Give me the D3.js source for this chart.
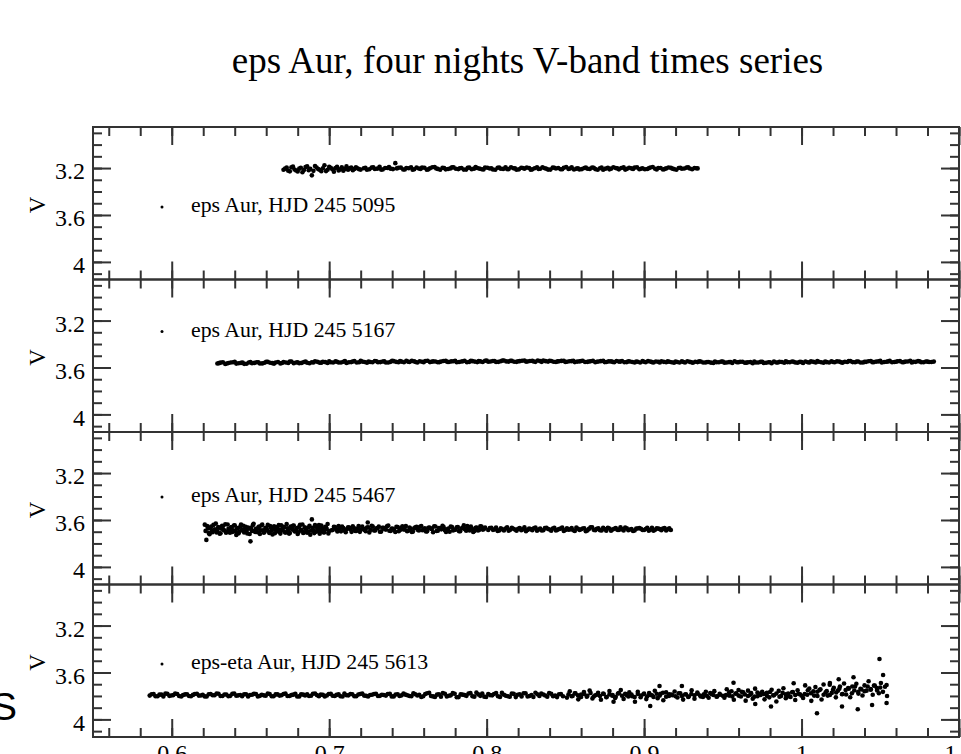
<!DOCTYPE html>
<html>
<head>
<meta charset="utf-8">
<script src="https://cdn.jsdelivr.net/npm/d3@7"></script>
<style>
  body { margin: 0; background: #fff; }
  svg { display: block; font-family: "Liberation Serif", "Times New Roman", serif; }
</style>
</head>
<body>
<svg id="chart" width="961" height="754"></svg>
<script>
const chartTitle = "eps Aur, four nights V-band times series";
const yLabel = "V";
const nightLabels = [
  "eps Aur, HJD 245 5095",
  "eps Aur, HJD 245 5167",
  "eps Aur, HJD 245 5467",
  "eps-eta Aur, HJD 245 5613"
];
const xTickLabels = [0.6, 0.7, 0.8, 0.9, 1, 1.1];
const vTickLabels = [3.2, 3.6, 4];

// [fraction of day, V mag]
const night5095 = [
  [.671,3.214],[.673,3.196],[.675,3.228],[.677,3.188],[.679,3.221],[.681,3.205],[.683,3.236],[.685,3.192],[.687,3.218],[.689,3.262],
  [.691,3.183],[.693,3.209],[.695,3.227],[.697,3.176],[.699,3.214],[.701,3.198],[.703,3.232],[.705,3.190],[.707,3.211],[.709,3.222],
  [.711,3.186],[.713,3.203],[.715,3.219],[.717,3.194],[.719,3.210],[.722,3.201],[.724,3.214],[.727,3.196],[.729,3.208],[.732,3.189],
  [.734,3.212],[.737,3.199],[.739,3.205],[.742,3.158],[.744,3.197],[.747,3.212],[.749,3.200],[.752,3.193],[.754,3.210],[.757,3.204],
  [.759,3.196],[.762,3.214],[.764,3.201],[.767,3.192],[.769,3.207],[.772,3.198],[.774,3.211],[.777,3.203],[.779,3.194],[.782,3.209],
  [.784,3.200],[.787,3.213],[.789,3.196],[.792,3.205],[.794,3.199],[.797,3.210],[.799,3.195],[.802,3.204],[.804,3.212],[.807,3.198],
  [.809,3.206],[.812,3.193],[.814,3.209],[.817,3.201],[.819,3.214],[.822,3.197],[.824,3.205],[.827,3.199],[.829,3.211],[.832,3.194],
  [.834,3.206],[.837,3.202],[.839,3.213],[.842,3.196],[.844,3.204],[.847,3.210],[.849,3.198],[.852,3.207],[.854,3.193],[.857,3.205],
  [.859,3.212],[.862,3.199],[.864,3.206],[.867,3.195],[.869,3.209],[.872,3.202],[.874,3.214],[.877,3.197],[.879,3.205],[.882,3.200],
  [.884,3.211],[.887,3.194],[.889,3.207],[.892,3.203],[.894,3.196],[.897,3.210],[.899,3.201],[.902,3.208],[.904,3.195],[.907,3.206],
  [.909,3.199],[.912,3.212],[.914,3.203],[.917,3.197],[.919,3.209],[.922,3.200],[.924,3.206],[.927,3.196],[.929,3.204],[.932,3.199],
  [.934,3.203],
  [.672,3.205],[.674,3.222],[.676,3.193],[.678,3.212],[.680,3.229],[.682,3.198],[.684,3.216],[.686,3.185],[.688,3.207],[.690,3.224],
  [.692,3.195],[.694,3.214],[.696,3.201],[.698,3.226],[.700,3.190],[.702,3.210],[.704,3.199],[.706,3.220],[.708,3.193],[.710,3.208],
  [.712,3.215],[.714,3.196],[.716,3.207],[.718,3.201],[.720,3.213],
  [.723,3.198],[.7255,3.210],[.728,3.194],[.7305,3.205],[.733,3.213],[.7355,3.200],[.738,3.192],[.7405,3.209],[.743,3.203],[.7455,3.196],
  [.748,3.212],[.7505,3.201],[.753,3.214],[.7555,3.195],[.758,3.207],[.7605,3.197],[.763,3.211],[.7655,3.193],[.768,3.204],[.7705,3.215],
  [.773,3.199],[.7755,3.208],[.778,3.194],[.7805,3.206],[.783,3.202],[.7855,3.213],[.788,3.197],[.7905,3.210],[.793,3.191],[.7955,3.205],
  [.798,3.212],[.8005,3.198],[.803,3.201],[.8055,3.214],[.808,3.195],[.8105,3.207],[.813,3.209],[.8155,3.193],[.818,3.203],[.8205,3.211],
  [.823,3.200],[.8255,3.196],[.828,3.215],[.8305,3.202],[.833,3.208],[.8355,3.194],[.838,3.206],[.8405,3.213],[.843,3.197],[.8455,3.199],
  [.848,3.210],[.8505,3.192],[.853,3.204],[.8555,3.212],[.858,3.201],[.8605,3.209],[.863,3.195],[.8655,3.207],[.868,3.198],[.8705,3.214],
  [.873,3.196],[.8755,3.205],[.878,3.211],[.8805,3.193],[.883,3.203],[.8855,3.200],[.888,3.213],[.8905,3.197],[.893,3.208],[.8955,3.194],
  [.898,3.206],[.9005,3.210],[.903,3.202],[.9055,3.191],[.908,3.212],[.9105,3.199],[.913,3.209],[.9155,3.195],[.918,3.205],[.9205,3.214],
  [.923,3.198],[.9255,3.204],[.928,3.194],[.9305,3.210],[.933,3.201]
];

const night5167 = [
  [.629,3.566],[.631,3.559],[.634,3.570],[.636,3.562],[.639,3.556],[.641,3.567],[.644,3.561],[.646,3.569],[.649,3.558],[.651,3.564],
  [.654,3.555],[.656,3.566],[.659,3.560],[.661,3.552],[.664,3.563],[.666,3.557],[.669,3.565],[.671,3.554],[.674,3.561],[.676,3.549],
  [.679,3.558],[.681,3.564],[.684,3.553],[.686,3.560],[.689,3.556],[.691,3.547],[.694,3.559],[.696,3.552],[.699,3.562],[.701,3.555],
  [.704,3.548],[.706,3.557],[.709,3.551],[.711,3.561],[.714,3.554],[.716,3.546],[.719,3.556],[.721,3.550],[.724,3.559],[.726,3.553],
  [.729,3.545],[.731,3.555],[.734,3.549],[.736,3.558],[.739,3.552],[.741,3.546],[.744,3.556],[.746,3.550],[.749,3.543],[.751,3.553],
  [.754,3.548],[.756,3.557],[.759,3.551],[.761,3.545],[.764,3.554],[.766,3.548],[.769,3.556],[.771,3.550],[.774,3.544],[.776,3.553],
  [.779,3.547],[.781,3.555],[.784,3.549],[.786,3.543],[.789,3.552],[.791,3.546],[.794,3.554],[.796,3.548],[.799,3.542],[.801,3.551],
  [.804,3.545],[.806,3.553],[.809,3.547],[.811,3.541],[.814,3.550],[.816,3.544],[.819,3.552],[.821,3.546],[.824,3.540],[.826,3.549],
  [.829,3.544],[.831,3.552],[.834,3.546],[.836,3.541],[.839,3.550],[.841,3.545],[.844,3.553],[.846,3.547],[.849,3.542],[.851,3.551],
  [.854,3.546],[.856,3.554],[.859,3.548],[.861,3.543],[.864,3.552],[.866,3.547],[.869,3.555],[.871,3.549],[.874,3.544],[.876,3.553],
  [.879,3.548],[.881,3.556],[.884,3.550],[.886,3.545],[.889,3.554],[.891,3.549],[.894,3.557],[.896,3.551],[.899,3.546],[.901,3.555],
  [.904,3.550],[.906,3.558],[.909,3.552],[.911,3.547],[.914,3.556],[.916,3.551],[.919,3.559],[.921,3.553],[.924,3.548],[.926,3.557],
  [.929,3.552],[.931,3.560],[.934,3.554],[.936,3.549],[.939,3.558],[.941,3.553],[.944,3.561],[.946,3.555],[.949,3.550],[.951,3.559],
  [.954,3.554],[.956,3.562],[.959,3.556],[.961,3.551],[.964,3.560],[.966,3.555],[.969,3.563],[.971,3.557],[.974,3.552],[.976,3.561],
  [.979,3.556],[.981,3.564],[.984,3.558],[.986,3.551],[.989,3.560],[.991,3.554],[.994,3.549],[.996,3.558],[.999,3.552],[1.001,3.561],
  [1.004,3.555],[1.006,3.548],[1.009,3.557],[1.011,3.551],[1.014,3.560],[1.016,3.554],[1.019,3.547],[1.021,3.556],[1.024,3.550],[1.026,3.559],
  [1.029,3.553],[1.031,3.546],[1.034,3.555],[1.036,3.549],[1.039,3.558],[1.041,3.552],[1.044,3.545],[1.046,3.554],[1.049,3.548],[1.051,3.557],
  [1.054,3.551],[1.056,3.544],[1.059,3.553],[1.061,3.547],[1.064,3.556],[1.066,3.550],[1.069,3.543],[1.071,3.552],[1.074,3.546],[1.076,3.555],
  [1.079,3.549],[1.081,3.553],[1.084,3.550],
  [.630,3.563],[.6325,3.555],[.635,3.566],[.6375,3.558],[.640,3.552],[.6425,3.564],[.645,3.557],[.6475,3.568],[.650,3.554],[.6525,3.561],
  [.655,3.556],[.6575,3.565],[.660,3.551],[.6625,3.560],[.665,3.567],[.6675,3.553],[.670,3.562],[.6725,3.557],[.675,3.549],[.6775,3.563],
  [.680,3.555],[.6825,3.561],[.685,3.550],[.6875,3.564],[.690,3.557],[.6925,3.552],[.695,3.560],[.6975,3.554],[.700,3.548],[.7025,3.558],
  [.705,3.551],[.7075,3.557],[.710,3.546],[.7125,3.555],[.715,3.549],[.7175,3.558],[.720,3.544],[.7225,3.553],[.725,3.550],[.7275,3.556],
  [.730,3.547],[.7325,3.554],[.735,3.548],[.7375,3.557],[.740,3.543],[.7425,3.552],[.745,3.546],[.7475,3.555],[.750,3.550],[.7525,3.544],
  [.755,3.553],[.7575,3.547],[.760,3.556],[.7625,3.542],[.765,3.551],[.7675,3.549],[.770,3.554],[.7725,3.545],[.775,3.552],[.7775,3.548],
  [.780,3.543],[.7825,3.553],[.785,3.547],[.7875,3.555],[.790,3.544],[.7925,3.550],[.795,3.546],[.7975,3.553],[.800,3.541],[.8025,3.549],
  [.805,3.545],[.8075,3.552],[.810,3.540],[.8125,3.548],[.815,3.543],[.8175,3.551],[.820,3.547],[.8225,3.542],[.825,3.550],[.8275,3.545],
  [.830,3.549],[.8325,3.541],[.835,3.552],[.8375,3.546],[.840,3.543],[.8425,3.551],[.845,3.548],[.8475,3.544],[.850,3.553],[.8525,3.547],
  [.855,3.542],[.8575,3.550],[.860,3.545],[.8625,3.553],[.865,3.549],[.8675,3.544],[.870,3.551],[.8725,3.546],[.875,3.554],[.8775,3.548],
  [.880,3.552],[.8825,3.545],[.885,3.550],[.8875,3.556],[.890,3.547],[.8925,3.553],[.895,3.549],[.8975,3.557],[.900,3.551],[.9025,3.546],
  [.905,3.554],[.9075,3.549],[.910,3.557],[.9125,3.552],[.915,3.548],[.9175,3.555],[.920,3.550],[.9225,3.558],[.925,3.553],[.9275,3.547],
  [.930,3.556],[.9325,3.551],[.935,3.548],[.9375,3.557],[.940,3.553],[.9425,3.559],[.945,3.550],[.9475,3.555],[.950,3.549],[.9525,3.558],
  [.955,3.553],[.9575,3.547],[.960,3.556],[.9625,3.551],[.965,3.559],[.9675,3.554],[.970,3.549],[.9725,3.557],[.975,3.552],[.9775,3.560],
  [.980,3.555],[.9825,3.550],[.985,3.558],[.9875,3.553],[.990,3.548],[.9925,3.556],[.995,3.551],[.9975,3.559],[1.000,3.554],[1.0025,3.549],
  [1.005,3.557],[1.0075,3.552],[1.010,3.546],[1.0125,3.555],[1.015,3.550],[1.0175,3.558],[1.020,3.553],[1.0225,3.548],[1.025,3.556],[1.0275,3.551],
  [1.030,3.545],[1.0325,3.554],[1.035,3.549],[1.0375,3.557],[1.040,3.552],[1.0425,3.547],[1.045,3.555],[1.0475,3.550],[1.050,3.544],[1.0525,3.553],
  [1.055,3.548],[1.0575,3.556],[1.060,3.551],[1.0625,3.546],[1.065,3.554],[1.0675,3.549],[1.070,3.557],[1.0725,3.552],[1.075,3.547],[1.0775,3.555],
  [1.080,3.550],[1.0825,3.553]
];

const night5467 = [
  [.621,3.640],[.622,3.770],[.623,3.673],[.624,3.722],[.625,3.656],[.626,3.705],[.627,3.681],[.628,3.631],[.629,3.696],[.630,3.666],
  [.631,3.713],[.632,3.650],[.633,3.686],[.634,3.637],[.635,3.700],[.636,3.676],[.637,3.709],[.638,3.661],[.639,3.689],[.640,3.645],
  [.641,3.727],[.642,3.669],[.643,3.698],[.644,3.639],[.645,3.683],[.646,3.707],[.647,3.658],[.648,3.715],[.649,3.674],[.650,3.782],
  [.651,3.693],[.652,3.633],[.653,3.703],[.654,3.679],[.655,3.663],[.656,3.719],[.657,3.647],[.658,3.688],[.659,3.701],[.660,3.671],
  [.661,3.642],[.662,3.710],[.663,3.665],[.664,3.724],[.665,3.654],[.666,3.684],[.667,3.695],[.668,3.644],[.669,3.716],[.670,3.677],
  [.671,3.659],[.672,3.706],[.673,3.635],[.674,3.691],[.675,3.712],[.676,3.668],[.677,3.649],[.678,3.697],[.679,3.678],[.680,3.720],
  [.681,3.657],[.682,3.687],[.683,3.638],[.684,3.704],[.685,3.675],[.686,3.708],[.687,3.664],[.688,3.726],[.689,3.595],[.690,3.690],
  [.691,3.643],[.692,3.699],[.693,3.670],[.694,3.717],[.695,3.648],[.696,3.685],[.697,3.705],[.698,3.662],[.699,3.634],[.700,3.694],
  [.6215,3.693],[.6225,3.651],[.6235,3.711],[.6245,3.670],[.6255,3.699],[.6265,3.642],[.6275,3.682],[.6285,3.706],[.6295,3.661],[.6305,3.717],
  [.6315,3.675],[.6325,3.654],[.6335,3.690],[.6345,3.708],[.6355,3.638],[.6365,3.685],[.6375,3.665],[.6385,3.703],[.6395,3.647],[.6405,3.696],
  [.6415,3.672],[.6425,3.714],[.6435,3.658],[.6445,3.688],[.6455,3.649],[.6465,3.680],[.6475,3.701],[.6485,3.664],[.6495,3.719],[.6505,3.669],
  [.6515,3.644],[.6525,3.694],[.6535,3.676],[.6545,3.705],[.6555,3.656],[.6565,3.687],[.6575,3.640],[.6585,3.709],[.6595,3.667],[.6605,3.683],
  [.6615,3.698],[.6625,3.652],[.6635,3.691],[.6645,3.673],[.6655,3.713],[.6665,3.660],[.6675,3.677],[.6685,3.702],[.6695,3.645],[.6705,3.689],
  [.6715,3.663],[.6725,3.707],[.6735,3.671],[.6745,3.716],[.6755,3.655],[.6765,3.681],[.6775,3.648],[.6785,3.695],[.6795,3.668],[.6805,3.704],
  [.6815,3.641],[.6825,3.686],[.6835,3.710],[.6845,3.662],[.6855,3.674],[.6865,3.700],[.6875,3.650],[.6885,3.692],[.6895,3.666],[.6905,3.712],
  [.6915,3.657],[.6925,3.684],[.6935,3.643],[.6945,3.697],[.6955,3.670],[.6965,3.706],[.6975,3.659],[.6985,3.679],[.6995,3.715],
  [.7015,3.688],[.703,3.658],[.7045,3.681],[.706,3.651],[.7075,3.697],[.709,3.669],[.7105,3.704],[.712,3.662],[.7135,3.678],[.715,3.654],
  [.7165,3.693],[.718,3.673],[.7195,3.701],[.721,3.657],[.7225,3.685],[.724,3.665],[.7245,3.622],[.7255,3.706],[.727,3.650],[.7285,3.690],
  [.730,3.671],[.7315,3.656],[.733,3.699],[.7345,3.667],[.736,3.682],[.7375,3.648],[.739,3.694],[.7405,3.675],[.742,3.702],[.7435,3.661],
  [.745,3.686],[.7465,3.653],[.748,3.680],[.7495,3.696],[.751,3.664],[.7525,3.703],[.754,3.670],[.7555,3.659],[.757,3.689],[.7585,3.652],
  [.760,3.684],[.7615,3.698],[.763,3.666],[.7645,3.674],[.766,3.705],[.7675,3.655],[.769,3.691],[.7705,3.668],[.772,3.649],[.7735,3.687],
  [.775,3.679],[.7765,3.700],[.778,3.660],[.7795,3.683],[.781,3.663],[.7825,3.695],[.784,3.672],[.7855,3.646],[.787,3.692],[.7885,3.677],
  [.790,3.657],[.7915,3.702],[.793,3.667],[.7945,3.690],[.796,3.654],[.7975,3.682],[.799,3.665],
  [.7022,3.686],[.7037,3.660],[.7052,3.698],[.7067,3.672],[.7082,3.655],[.7097,3.690],[.7112,3.679],[.7127,3.664],[.7142,3.701],[.7157,3.668],
  [.7172,3.693],[.7187,3.652],[.7202,3.682],[.7217,3.675],[.7232,3.695],[.7247,3.662],[.7262,3.685],[.7277,3.657],[.7292,3.689],[.7307,3.670],
  [.7322,3.700],[.7337,3.666],[.7352,3.677],[.7367,3.653],[.7382,3.692],[.7397,3.673],[.7412,3.687],[.7427,3.659],[.7442,3.696],[.7457,3.667],
  [.7472,3.681],[.7487,3.651],[.7502,3.691],[.7517,3.674],[.7532,3.699],[.7547,3.663],[.7562,3.684],[.7577,3.658],[.7592,3.688],[.7607,3.671],
  [.7622,3.697],[.7637,3.665],[.7652,3.676],[.7667,3.654],[.7682,3.694],[.7697,3.669],[.7712,3.680],[.7727,3.661],[.7742,3.702],[.7757,3.672],
  [.7772,3.656],[.7787,3.689],[.7802,3.683],[.7817,3.660],[.7832,3.695],[.7847,3.667],[.7862,3.678],[.7877,3.652],[.7892,3.690],[.7907,3.675],
  [.7922,3.693],[.7937,3.664],[.7952,3.685],[.7967,3.657],[.7982,3.679],
  [.801,3.686],[.803,3.666],[.805,3.681],[.807,3.693],[.809,3.671],[.811,3.689],[.813,3.663],[.815,3.683],[.817,3.675],[.819,3.691],
  [.821,3.668],[.823,3.679],[.825,3.695],[.827,3.672],[.829,3.687],[.831,3.664],[.833,3.682],[.835,3.690],[.837,3.669],[.839,3.677],
  [.841,3.692],[.843,3.667],[.845,3.684],[.847,3.674],[.849,3.694],[.851,3.670],[.853,3.680],[.855,3.688],[.857,3.665],[.859,3.685],
  [.861,3.673],[.863,3.696],[.865,3.676],[.867,3.662],[.869,3.687],[.871,3.671],[.873,3.690],[.875,3.678],[.877,3.667],[.879,3.692],
  [.881,3.675],[.883,3.684],[.885,3.663],[.887,3.689],[.889,3.670],[.891,3.681],[.893,3.694],[.895,3.672],[.897,3.668],[.899,3.686],
  [.901,3.677],[.903,3.691],[.905,3.666],[.907,3.683],[.909,3.674],[.911,3.688],[.913,3.669],[.915,3.680],[.917,3.685],
  [.802,3.669],[.804,3.684],[.806,3.664],[.808,3.689],[.810,3.680],[.812,3.673],[.814,3.691],[.816,3.667],[.818,3.682],[.820,3.676],
  [.822,3.687],[.824,3.663],[.826,3.685],[.828,3.678],[.830,3.670],[.832,3.692],[.834,3.674],[.836,3.688],[.838,3.666],[.840,3.681],
  [.842,3.672],[.844,3.690],[.846,3.677],[.848,3.665],[.850,3.686],[.852,3.683],[.854,3.668],[.856,3.693],[.858,3.675],[.860,3.679],
  [.862,3.671],[.864,3.689],[.866,3.662],[.868,3.684],[.870,3.676],[.872,3.687],[.874,3.667],[.876,3.691],[.878,3.673],[.880,3.682],
  [.882,3.669],[.884,3.685],[.886,3.680],[.888,3.664],[.890,3.688],[.892,3.677],[.894,3.690],[.896,3.672],[.898,3.675],[.900,3.686],
  [.902,3.666],[.904,3.683],[.906,3.692],[.908,3.670],[.910,3.678],[.912,3.674],[.914,3.689],[.916,3.671]
];

const night5613 = [
  [.586,3.797],[.5885,3.784],[.591,3.803],[.5935,3.789],[.596,3.780],[.5985,3.799],[.601,3.793],[.6035,3.783],[.606,3.805],[.6085,3.787],
  [.611,3.801],[.6135,3.791],[.616,3.781],[.6185,3.796],[.621,3.804],[.6235,3.785],[.626,3.794],[.6285,3.779],[.631,3.800],[.6335,3.788],
  [.636,3.802],[.6385,3.782],[.641,3.798],[.6435,3.792],[.646,3.786],[.6485,3.805],[.651,3.790],[.6535,3.783],[.656,3.799],[.6585,3.795],
  [.661,3.780],[.6635,3.803],[.666,3.787],[.6685,3.797],[.671,3.784],[.6735,3.801],[.676,3.793],[.6785,3.781],[.681,3.804],[.6835,3.789],
  [.686,3.785],[.6885,3.798],[.691,3.779],[.6935,3.802],[.696,3.791],[.6985,3.796],[.701,3.782],[.7035,3.800],[.706,3.786],[.7085,3.805],
  [.711,3.794],[.7135,3.783],[.716,3.803],[.7185,3.788],[.721,3.780],[.7235,3.799],[.726,3.792],[.7285,3.784],[.731,3.801],[.7335,3.790],
  [.736,3.797],[.7385,3.781],[.741,3.804],[.7435,3.786],[.746,3.795],[.7485,3.789],
  [.751,3.801],[.7535,3.778],[.756,3.796],[.7585,3.809],[.761,3.784],[.7635,3.774],[.766,3.804],[.7685,3.789],[.771,3.807],[.7735,3.781],
  [.776,3.798],[.7785,3.776],[.781,3.811],[.7835,3.787],[.786,3.793],[.7885,3.779],[.791,3.803],[.7935,3.772],[.796,3.799],[.7985,3.806],
  [.801,3.783],[.8035,3.795],[.806,3.775],[.8085,3.808],[.811,3.790],[.8135,3.802],[.816,3.780],[.8185,3.810],[.821,3.786],[.8235,3.777],
  [.826,3.805],[.8285,3.792],[.831,3.773],[.8335,3.800],[.836,3.788],[.8385,3.807],[.841,3.782],[.8435,3.797],[.846,3.785],[.8485,3.803],
  [.5872,3.785],[.5897,3.802],[.5922,3.789],[.5947,3.804],[.5972,3.782],[.5997,3.796],[.6022,3.780],[.6047,3.800],[.6072,3.793],[.6097,3.786],
  [.6122,3.803],[.6147,3.783],[.6172,3.797],[.6197,3.791],[.6222,3.805],[.6247,3.784],[.6272,3.794],[.6297,3.781],[.6322,3.801],[.6347,3.788],
  [.6372,3.799],[.6397,3.779],[.6422,3.795],[.6447,3.802],[.6472,3.786],[.6497,3.792],[.6522,3.782],[.6547,3.804],[.6572,3.790],[.6597,3.798],
  [.6622,3.783],[.6647,3.803],[.6672,3.787],[.6697,3.794],[.6722,3.780],[.6747,3.800],[.6772,3.789],[.6797,3.805],[.6822,3.785],[.6847,3.796],
  [.6872,3.801],[.6897,3.781],[.6922,3.793],[.6947,3.788],[.6972,3.804],[.6997,3.784],[.7022,3.798],[.7047,3.791],[.7072,3.802],[.7097,3.779],
  [.7122,3.795],[.7147,3.786],[.7172,3.803],[.7197,3.783],[.7222,3.797],[.7247,3.805],[.7272,3.790],[.7297,3.782],[.7322,3.799],[.7347,3.792],
  [.7372,3.784],[.7397,3.804],[.7422,3.788],[.7447,3.800],[.7472,3.780],[.7497,3.794],[.7522,3.802],[.7547,3.786],[.7572,3.791],[.7597,3.803],
  [.7622,3.777],[.7647,3.801],[.7672,3.808],[.7697,3.785],[.7722,3.775],[.7747,3.804],[.7772,3.795],[.7797,3.781],[.7822,3.810],[.7847,3.789],
  [.7872,3.799],[.7897,3.776],[.7922,3.806],[.7947,3.787],[.7972,3.779],[.7997,3.809],[.8022,3.793],[.8047,3.783],[.8072,3.803],[.8097,3.774],
  [.8122,3.798],[.8147,3.807],[.8172,3.782],[.8197,3.790],[.8222,3.805],[.8247,3.778],[.8272,3.800],[.8297,3.809],[.8322,3.786],[.8347,3.780],
  [.8372,3.796],[.8397,3.776],[.8422,3.802],[.8447,3.810],[.8472,3.784],
  [.851,3.814],[.8528,3.761],[.8546,3.800],[.8564,3.777],[.8582,3.829],[.860,3.788],[.8618,3.766],[.8636,3.806],[.8654,3.754],[.8672,3.821],
  [.869,3.795],[.8708,3.773],[.8726,3.833],[.8744,3.783],[.8762,3.809],[.878,3.758],[.8798,3.798],[.8816,3.817],[.8834,3.779],[.8852,3.750],
  [.887,3.825],[.8888,3.791],[.8906,3.770],[.8924,3.803],[.8942,3.850],[.896,3.764],[.8978,3.811],[.8996,3.785],[.9014,3.827],[.9032,3.775],
  [.905,3.794],[.9068,3.756],[.9086,3.819],[.9104,3.781],[.9122,3.837],[.914,3.768],[.9158,3.801],[.9176,3.789],[.9194,3.762],[.9212,3.813],
  [.923,3.778],[.9248,3.831],[.9266,3.786],[.9284,3.805],[.9302,3.752],[.932,3.823],[.9338,3.772],[.9356,3.796],[.9374,3.808],[.9392,3.765],
  [.941,3.816],[.9428,3.783],[.9446,3.759],[.9464,3.804],[.9482,3.790],
  [.852,3.786],[.854,3.803],[.856,3.778],[.858,3.795],[.860,3.809],[.862,3.783],[.864,3.799],[.866,3.774],[.868,3.805],[.870,3.790],
  [.872,3.801],[.874,3.780],[.876,3.811],[.878,3.787],[.880,3.793],[.882,3.807],[.884,3.776],[.886,3.798],[.888,3.782],[.890,3.804],
  [.892,3.789],[.894,3.810],[.896,3.784],[.898,3.796],[.900,3.779],[.902,3.802],[.904,3.791],[.906,3.808],[.908,3.781],[.910,3.797],
  [.912,3.773],[.914,3.806],[.916,3.785],[.918,3.794],[.920,3.803],[.922,3.777],[.924,3.800],[.926,3.788],[.928,3.809],[.930,3.783],
  [.932,3.795],[.934,3.780],[.936,3.805],[.938,3.786],[.940,3.801],[.942,3.775],[.944,3.792],[.946,3.806],[.948,3.782],[.950,3.798],
  [.951,3.816],[.9525,3.743],[.954,3.797],[.9555,3.760],[.957,3.833],[.9585,3.777],[.960,3.749],[.9615,3.805],[.963,3.770],[.9645,3.840],
  [.966,3.755],[.9675,3.790],[.969,3.824],[.9705,3.738],[.972,3.802],[.9735,3.781],[.975,3.764],[.9765,3.829],[.978,3.773],[.9795,3.812],
  [.981,3.747],[.9825,3.794],[.984,3.847],[.9855,3.757],[.987,3.800],[.9885,3.735],[.990,3.819],[.9915,3.779],[.993,3.808],[.9945,3.767],
  [.996,3.835],[.9975,3.752],[.999,3.786],
  [.952,3.793],[.954,3.770],[.956,3.804],[.958,3.781],[.960,3.797],[.962,3.765],[.964,3.788],[.966,3.801],[.968,3.776],[.970,3.806],
  [.972,3.772],[.974,3.791],[.976,3.784],[.978,3.799],[.980,3.767],[.982,3.795],[.984,3.779],[.986,3.807],[.988,3.774],[.990,3.787],
  [.992,3.802],[.994,3.769],[.996,3.792],[.998,3.782],[1.000,3.798],
  [1.001,3.817],[1.0023,3.710],[1.0036,3.790],[1.0049,3.737],[1.0062,3.842],[1.0075,3.760],[1.0088,3.724],[1.0101,3.800],[1.0114,3.750],[1.0127,3.830],
  [1.014,3.702],[1.0153,3.768],[1.0166,3.797],[1.0179,3.705],[1.0192,3.774],[1.0205,3.730],[1.0218,3.812],[1.0231,3.755],[1.0244,3.720],[1.0257,3.785],
  [1.027,3.694],[1.0283,3.788],[1.0296,3.732],[1.0309,3.811],[1.0322,3.720],[1.0335,3.753],[1.0348,3.696],[1.0361,3.780],[1.0374,3.739],[1.0387,3.796],
  [1.040,3.710],[1.0413,3.755],[1.0426,3.675],[1.0439,3.747],[1.0452,3.790],[1.0465,3.711],[1.0478,3.733],[1.0491,3.777],[1.0504,3.690],[1.0517,3.765],
  [1.053,3.721],[1.0543,3.801],
  [1.002,3.784],[1.004,3.752],[1.006,3.777],[1.008,3.797],[1.010,3.764],[1.012,3.744],[1.014,3.790],[1.016,3.759],[1.018,3.792],[1.020,3.747],
  [1.022,3.771],[1.024,3.738],[1.026,3.783],[1.028,3.750],[1.030,3.738],[1.032,3.777],[1.034,3.720],[1.036,3.764],[1.038,3.744],[1.040,3.760],
  [1.042,3.720],[1.044,3.742],[1.046,3.712],[1.048,3.754],[1.050,3.728],
  [1.0495,3.485],[1.0518,3.621],[1.054,3.707],[1.054,3.860],[1.0098,3.948],[1.0357,3.914],[1.0257,3.890],[1.0448,3.877],[.9806,3.890],[.9706,3.869],
  [.9568,3.687],[.995,3.692],[1.018,3.690],[1.0236,3.658],[1.033,3.641],[.924,3.715],[.9098,3.715],[.9039,3.886],[.8806,3.850]
];

const nights = [night5095, night5167, night5467, night5613];

// layout
const plotLeft = 93, plotRight = 959, plotTop = 127, panelHeight = 152.5;
const legendOffsets = [80, 52, 65, 79.5];
const ink = "#333";
const serif = "'Liberation Serif', 'Times New Roman', serif";

const svg = d3.select("#chart");

const x = d3.scaleLinear().domain([0.55, 1.1]).range([plotLeft, plotRight]);

svg.append("text")
  .attr("x", 527.5)
  .attr("y", 72.5)
  .attr("text-anchor", "middle")
  .attr("font-family", serif)
  .attr("font-size", 37)
  .attr("fill", "#000")
  .text(chartTitle);

function styleAxis(sel, fontSize) {
  sel.select(".domain").remove();
  sel.attr("color", ink).attr("font-family", serif).attr("font-size", fontSize);
  sel.selectAll("line").attr("stroke-width", 2);
  sel.selectAll("text").attr("fill", "#000");
}

const plainNumber = (d) => String(d);

nights.forEach((data, i) => {
  const y0 = plotTop + i * panelHeight;
  const y1 = y0 + panelHeight;
  const y = d3.scaleLinear().domain([2.85, 4.15]).range([y0, y1]);
  const g = svg.append("g");
  const isLast = i === nights.length - 1;

  // minor ticks
  g.append("g").attr("transform", `translate(${plotLeft},0)`)
    .call(d3.axisLeft(y).tickValues(y.ticks(13)).tickSize(-9).tickFormat(""))
    .call(styleAxis, 0);
  g.append("g").attr("transform", `translate(${plotRight},0)`)
    .call(d3.axisRight(y).tickValues(y.ticks(13)).tickSize(-9).tickFormat(""))
    .call(styleAxis, 0);
  g.append("g").attr("transform", `translate(0,${y0})`)
    .call(d3.axisTop(x).tickValues(x.ticks(30)).tickSize(-9).tickFormat(""))
    .call(styleAxis, 0);
  g.append("g").attr("transform", `translate(0,${y1})`)
    .call(d3.axisBottom(x).tickValues(x.ticks(30)).tickSize(-9).tickFormat(""))
    .call(styleAxis, 0);

  // major ticks
  g.append("g").attr("transform", `translate(${plotLeft},0)`)
    .call(d3.axisLeft(y).tickValues(vTickLabels).tickSize(-18).tickPadding(8).tickFormat(plainNumber))
    .call(styleAxis, 24)
    .call(s => s.selectAll("text").attr("dy", "0.45em"));
  g.append("g").attr("transform", `translate(${plotRight},0)`)
    .call(d3.axisRight(y).tickValues(vTickLabels).tickSize(-18).tickFormat(""))
    .call(styleAxis, 0);
  g.append("g").attr("transform", `translate(0,${y0})`)
    .call(d3.axisTop(x).tickValues(xTickLabels).tickSize(-18).tickFormat(""))
    .call(styleAxis, 0);
  const bottomAxis = d3.axisBottom(x).tickValues(xTickLabels).tickSize(-18).tickPadding(7)
    .tickFormat(isLast ? plainNumber : "");
  g.append("g").attr("transform", `translate(0,${y1})`)
    .call(bottomAxis)
    .call(styleAxis, 24);

  // frame
  g.append("rect")
    .attr("x", plotLeft)
    .attr("y", y0)
    .attr("width", plotRight - plotLeft)
    .attr("height", panelHeight)
    .attr("fill", "none")
    .attr("stroke", ink)
    .attr("stroke-width", 2);

  // points
  g.append("g")
    .selectAll("circle")
    .data(data)
    .join("circle")
    .attr("cx", (d) => x(d[0]))
    .attr("cy", (d) => y(d[1]))
    .attr("r", 2.3)
    .attr("fill", "#000");

  // legend
  const ly = y0 + legendOffsets[i];
  g.append("circle").attr("cx", 162).attr("cy", ly).attr("r", 1.5).attr("fill", "#000");
  g.append("text")
    .attr("x", 191)
    .attr("y", ly + 5)
    .attr("font-family", serif)
    .attr("font-size", 21.8)
    .attr("fill", "#000")
    .text(nightLabels[i]);

  // y label
  g.append("text")
    .attr("transform", `translate(45,${y0 + 78}) rotate(-90)`)
    .attr("text-anchor", "middle")
    .attr("font-family", serif)
    .attr("font-size", 23)
    .attr("fill", "#000")
    .text(yLabel);
});

// stray slide letter at the bottom left
svg.append("text")
  .attr("x", -9)
  .attr("y", 720)
  .attr("font-family", "'Liberation Sans', Arial, sans-serif")
  .attr("font-size", 39)
  .attr("fill", "#000")
  .text("S");
</script>
</body>
</html>
